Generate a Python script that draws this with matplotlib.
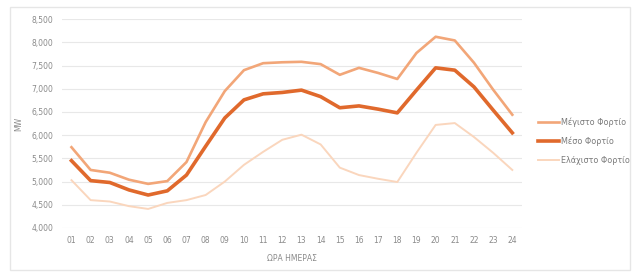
import matplotlib
matplotlib.use("Agg")
import matplotlib.pyplot as plt
from matplotlib.patches import Rectangle
from matplotlib.ticker import FuncFormatter

hours = ["01", "02", "03", "04", "05", "06", "07", "08", "09", "10", "11", "12",
         "13", "14", "15", "16", "17", "18", "19", "20", "21", "22", "23", "24"]
max_load = [5740, 5250, 5190, 5040, 4950, 5010, 5420, 6280, 6950, 7400, 7550, 7570,
            7580, 7530, 7300, 7450, 7340, 7210, 7770, 8120, 8040, 7560, 6980, 6440]
mean_load = [5450, 5020, 4980, 4820, 4710, 4800, 5140, 5760, 6370, 6760, 6890, 6920,
             6970, 6830, 6590, 6630, 6560, 6480, 6970, 7450, 7400, 7040, 6540, 6050]
min_load = [5030, 4600, 4570, 4470, 4410, 4540, 4600, 4710, 5000, 5360, 5640, 5900,
            6010, 5800, 5300, 5140, 5060, 4990, 5620, 6220, 6260, 5960, 5620, 5250]
series_names = ["Μέγιστο Φορτίο", "Μέσο Φορτίο", "Ελάχιστο Φορτίο"]
yticks = [4000, 4500, 5000, 5500, 6000, 6500, 7000, 7500, 8000, 8500]

fig = plt.figure(figsize=(6.38, 2.77), dpi=100)
fig.patches.append(Rectangle((0.016, 0.025), 0.972, 0.95, transform=fig.transFigure,
                             fill=False, edgecolor="#e6e6e6", linewidth=1.0))
ax = fig.add_axes([0.097, 0.177, 0.721, 0.754])

x = list(range(1, len(hours) + 1))
ax.plot(x, max_load, color="#F2A678", linewidth=1.9, label=series_names[0], zorder=3)
ax.plot(x, mean_load, color="#E0692C", linewidth=2.6, label=series_names[1], zorder=4)
ax.plot(x, min_load, color="#FAD6BD", linewidth=1.4, label=series_names[2], zorder=2)

ax.set_xlim(0.5, len(hours) + 0.5)
ax.set_ylim(4000, 8500)
ax.set_yticks(yticks)
ax.yaxis.set_major_formatter(FuncFormatter(lambda v, p: f"{int(v):,}"))
ax.set_xticks(x)
ax.set_xticklabels(hours)
ax.grid(axis="y", color="#e8e8e8", linewidth=0.8)
ax.set_axisbelow(True)
for s in ax.spines.values():
    s.set_visible(False)
ax.tick_params(axis="both", length=0, labelsize=5.5, colors="#8a8a8a", pad=6)
ax.set_ylabel("MW", fontsize=5.5, color="#8a8a8a", labelpad=6)
ax.set_xlabel("ΩΡΑ ΗΜΕΡΑΣ", fontsize=5.5, color="#8a8a8a", labelpad=6)

leg = ax.legend(loc="center left", bbox_to_anchor=(1.02, 0.416), frameon=False,
                fontsize=5.8, handlelength=2.6, handletextpad=0.2, labelspacing=1.2,
                labelcolor="#7a7a7a")

fig.savefig("out.png", dpi=100)
